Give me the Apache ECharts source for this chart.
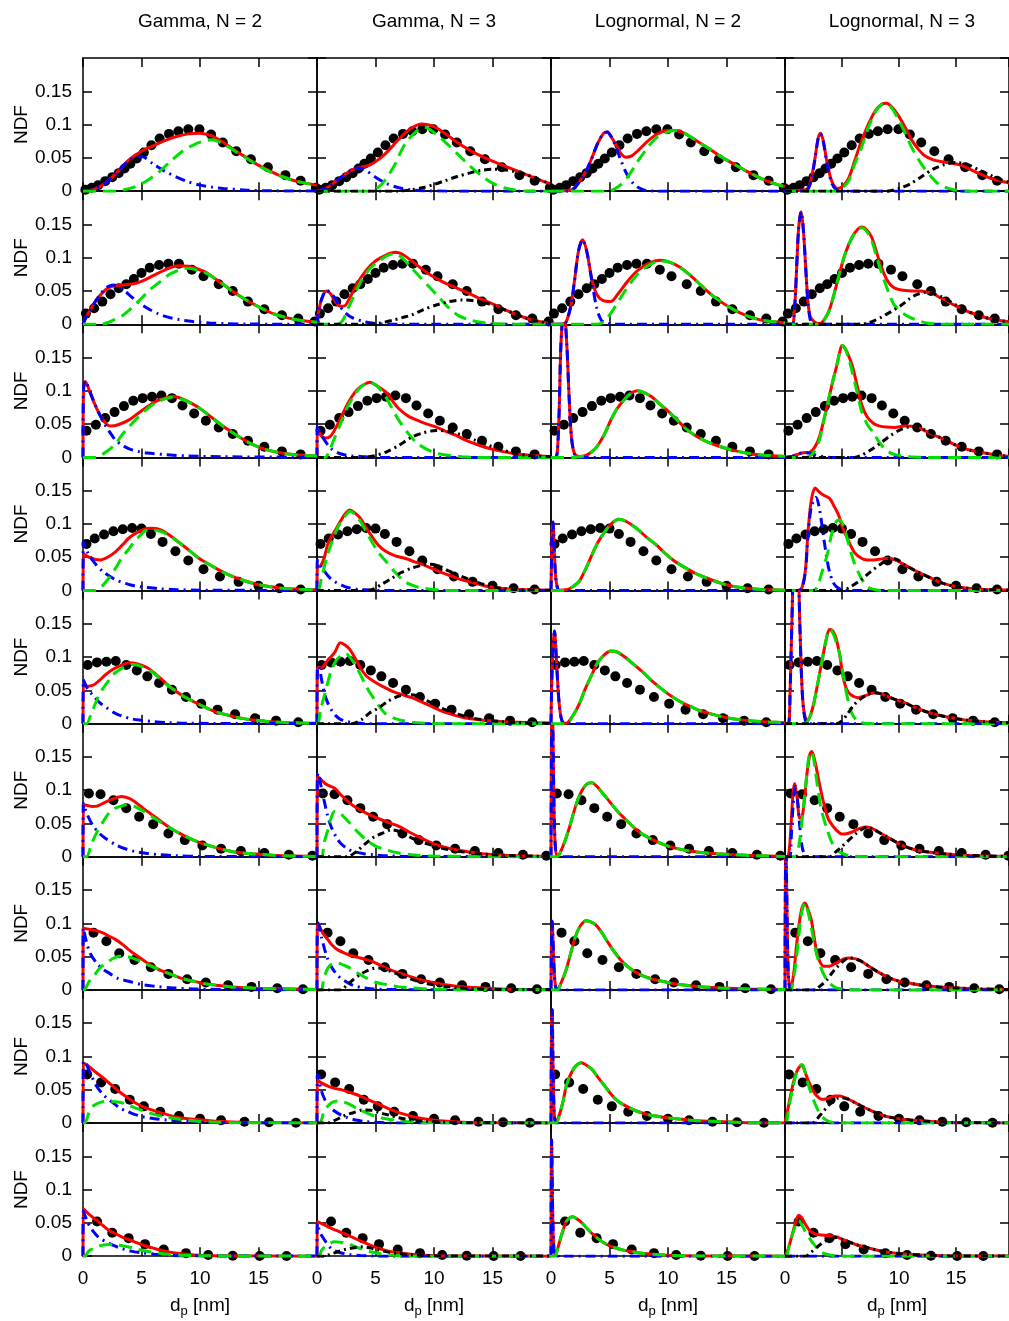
<!DOCTYPE html>
<html><head><meta charset="utf-8">
<script src="https://cdn.jsdelivr.net/npm/echarts@6/dist/echarts.min.js"></script>
<style>html,body{margin:0;padding:0;background:#fff}#c{width:1009px;height:1321px}</style>
</head><body><div id="c"></div>
<script>
const COL_TITLES = ['Gamma, N = 2', 'Gamma, N = 3', 'Lognormal, N = 2', 'Lognormal, N = 3'];
const X_TICKS = [0, 5, 10, 15];
const Y_TICKS = [0, 0.05, 0.1, 0.15];

// ---------- Row 1 ----------
const R1_DOTS = [[0.2,0.002],[0.75,0.005],[1.3,0.009],[1.9,0.015],[2.5,0.021],[3.05,0.027],[3.55,0.034],[4.05,0.041],[4.6,0.049],[5.2,0.058],[5.85,0.069],[6.55,0.079],[7.35,0.086],[8.15,0.09],[9.0,0.093],[9.95,0.093],[10.95,0.085],[11.95,0.073],[13.1,0.06],[14.35,0.048],[15.8,0.036],[17.3,0.024],[18.6,0.0155],[19.9,0.005]];
const R1C1_RED = [[0,0],[1,0.003],[2,0.013],[3,0.03],[4,0.048],[5,0.06],[6,0.068],[7,0.076],[8,0.082],[9,0.086],[10,0.087],[11,0.083],[12,0.073],[13,0.061],[14,0.05],[15,0.039],[16,0.03],[17,0.022],[18,0.016],[19,0.012],[20,0.009]];
const R1C1_BLUE = [[0,0],[1,0.003],[2,0.013],[3,0.03],[4,0.047],[5,0.052],[6,0.041],[7,0.03],[8,0.021],[9,0.014],[10,0.009],[11,0.006],[12,0.004],[14,0.0015],[16,0.0005],[20,0]];
const R1C1_GREEN = [[0,0],[2.5,0],[3.5,0.002],[4.5,0.007],[5.5,0.016],[6.5,0.029],[7.5,0.045],[8.5,0.06],[9.5,0.07],[10.5,0.076],[11,0.077],[12,0.071],[13,0.06],[14,0.049],[15,0.038],[16,0.029],[17,0.022],[18,0.016],[19,0.012],[20,0.009]];
const R1C2_RED = [[0,0],[1,0.007],[2,0.02],[3,0.032],[3.8,0.036],[4.5,0.039],[5.3,0.048],[6,0.059],[7,0.078],[8,0.094],[9,0.101],[10,0.097],[11,0.086],[12,0.073],[13,0.062],[14,0.053],[15,0.045],[16,0.038],[17,0.031],[18,0.024],[19,0.017],[20,0.011]];
const R1C2_BLUE = [[0,0],[1,0.007],[2,0.02],[3,0.032],[3.5,0.035],[4,0.033],[5,0.021],[6,0.011],[7,0.005],[8,0.002],[9,0.0007],[11,0],[20,0]];
const R1C2_GREEN = [[0,0],[4.5,0],[5.5,0.01],[6.5,0.035],[7.5,0.07],[8.5,0.09],[9.2,0.096],[10,0.088],[11,0.073],[12,0.056],[13,0.039],[14,0.024],[15,0.012],[16,0.005],[17,0.0015],[18,0],[20,0]];
const R1C2_BLACK = [[0,0],[7,0],[8,0.002],[9,0.005],[10,0.01],[11,0.016],[12,0.022],[13,0.027],[14,0.031],[15,0.033],[16,0.032],[17,0.029],[18,0.024],[19,0.017],[20,0.011]];
const R1C3_RED = [[0,0],[1,0.0005],[1.5,0.001],[2,0.005],[2.5,0.016],[3,0.03],[3.5,0.05],[4,0.072],[4.5,0.087],[4.8,0.089],[5.2,0.08],[5.6,0.068],[6,0.056],[6.4,0.051],[6.9,0.053],[7.5,0.062],[8.2,0.074],[9,0.085],[10,0.091],[10.6,0.091],[11.5,0.086],[12.5,0.075],[13.5,0.064],[14.5,0.052],[15.5,0.042],[16.5,0.032],[17.5,0.023],[18.5,0.015],[19.5,0.009],[20,0.007]];
const R1C3_BLUE = [[0,0],[1.5,0],[2,0.004],[2.5,0.016],[3,0.03],[3.5,0.05],[4,0.072],[4.5,0.087],[4.8,0.089],[5.2,0.08],[5.6,0.064],[6,0.045],[6.5,0.025],[7,0.012],[7.5,0.005],[8,0.0015],[9,0],[20,0]];
const R1C3_GREEN = [[0,0],[5,0],[5.5,0.004],[6,0.01],[6.5,0.02],[7,0.033],[7.5,0.047],[8.2,0.064],[9,0.08],[10,0.089],[10.6,0.091],[11.5,0.086],[12.5,0.075],[13.5,0.064],[14.5,0.052],[15.5,0.042],[16.5,0.032],[17.5,0.023],[18.5,0.015],[19.5,0.009],[20,0.007]];
const R1C4_RED = [[0,0],[1,0.001],[1.8,0.002],[2.2,0.012],[2.6,0.046],[2.9,0.079],[3.1,0.087],[3.35,0.076],[3.7,0.042],[4.1,0.015],[4.6,0.004],[5.1,0.008],[5.6,0.02],[6.1,0.045],[6.7,0.075],[7.3,0.1],[7.9,0.12],[8.5,0.131],[8.9,0.132],[9.4,0.126],[10,0.112],[10.6,0.094],[11.1,0.077],[11.7,0.063],[12.2,0.054],[13,0.047],[13.8,0.044],[14.6,0.042],[15.4,0.039],[16.2,0.033],[17.1,0.026],[18.1,0.019],[19.2,0.014],[20,0.011]];
const R1C4_BLUE = [[0,0],[1.8,0],[2.2,0.01],[2.6,0.045],[2.9,0.078],[3.1,0.086],[3.35,0.075],[3.7,0.04],[4.1,0.012],[4.5,0.002],[5,0],[20,0]];
const R1C4_GREEN = [[0,0],[4.5,0],[5,0.004],[5.6,0.016],[6.1,0.04],[6.7,0.065],[7.3,0.095],[7.9,0.118],[8.5,0.13],[8.9,0.131],[9.4,0.124],[10,0.106],[10.6,0.085],[11.1,0.066],[11.7,0.048],[12.2,0.035],[12.8,0.022],[13.3,0.013],[14,0.006],[14.8,0.002],[16,0],[20,0]];
const R1C4_BLACK = [[0,0],[9,0],[10,0.004],[11,0.011],[12,0.022],[13,0.033],[14,0.04],[15,0.043],[16,0.04],[17,0.032],[18,0.024],[19,0.017],[20,0.012]];

// ---------- Row 2 ----------
const R2_DOTS = [[0.25,0.016],[0.95,0.024],[1.65,0.034],[2.35,0.045],[3.05,0.054],[3.7,0.06],[4.35,0.068],[5.0,0.077],[5.7,0.085],[6.5,0.089],[7.3,0.091],[8.2,0.091],[9.3,0.082],[10.3,0.072],[11.6,0.06],[12.8,0.05],[14.1,0.034],[15.5,0.0225],[17.0,0.0135],[18.4,0.0085],[19.8,0.004]];
const R2C1_RED = [[0,0],[0.3,0.012],[0.7,0.024],[1.2,0.038],[1.7,0.048],[2.2,0.055],[2.8,0.058],[3.4,0.059],[4,0.06],[4.6,0.062],[5.2,0.066],[6,0.073],[6.8,0.08],[7.6,0.086],[8.3,0.088],[9,0.087],[9.8,0.083],[10.6,0.077],[11.4,0.067],[12.2,0.057],[13,0.047],[13.8,0.038],[14.6,0.03],[15.5,0.022],[16.4,0.015],[17.4,0.01],[18.5,0.006],[19.5,0.004],[20,0.003]];
const R2C1_BLUE = [[0,0],[0.3,0.012],[0.7,0.024],[1.2,0.038],[1.7,0.05],[2.2,0.057],[2.6,0.059],[3.2,0.055],[3.9,0.045],[4.7,0.033],[5.5,0.024],[6.4,0.016],[7.2,0.011],[8.2,0.007],[9.4,0.004],[10.8,0.002],[12.1,0.001],[14,0.0003],[20,0]];
const R2C1_GREEN = [[0,0],[1.5,0],[2.2,0.003],[2.8,0.008],[3.3,0.012],[4,0.022],[5,0.039],[5.8,0.053],[6.6,0.064],[7.4,0.075],[8.3,0.082],[8.9,0.084],[9.6,0.082],[10.6,0.076],[11.4,0.067],[12.2,0.057],[13,0.047],[13.8,0.038],[14.6,0.03],[15.5,0.022],[16.4,0.015],[17.4,0.01],[18.5,0.006],[19.5,0.004],[20,0.003]];
const R2C2_RED = [[0,0],[0.15,0.02],[0.4,0.038],[0.8,0.05],[1.1,0.047],[1.5,0.036],[2,0.027],[2.4,0.028],[2.9,0.043],[3.5,0.063],[4.2,0.081],[5,0.095],[5.9,0.104],[6.7,0.108],[7.4,0.104],[8.1,0.095],[8.9,0.084],[9.7,0.074],[10.5,0.066],[11.3,0.059],[12.1,0.053],[12.9,0.047],[14,0.038],[15.2,0.029],[16.3,0.02],[17.4,0.012],[18.5,0.006],[19.6,0.002],[20,0.0015]];
const R2C2_BLUE = [[0,0],[0.15,0.02],[0.4,0.038],[0.8,0.051],[1.1,0.048],[1.5,0.04],[2,0.026],[2.5,0.016],[3,0.01],[4,0.004],[5,0.001],[6,0],[20,0]];
const R2C2_GREEN = [[0,0],[1.8,0],[2.2,0.006],[2.8,0.029],[3.4,0.052],[3.9,0.069],[4.6,0.085],[5.3,0.095],[6,0.103],[6.6,0.106],[7.2,0.101],[8.1,0.084],[8.9,0.069],[9.7,0.054],[10.5,0.039],[11.3,0.024],[12.1,0.013],[13,0.0065],[14,0.003],[15,0.001],[16,0],[20,0]];
const R2C2_BLACK = [[0,0],[4.5,0],[5.3,0.0015],[6.5,0.006],[7.3,0.01],[8.1,0.014],[9.1,0.022],[10.2,0.029],[11.3,0.034],[12.4,0.0365],[13.5,0.035],[14.6,0.031],[15.7,0.024],[16.8,0.0165],[17.9,0.009],[19,0.004],[20,0.002]];
const R2C3_RED = [[0,0],[1,0.0005],[1.3,0.004],[1.7,0.028],[2.0,0.064],[2.35,0.11],[2.7,0.127],[3.05,0.11],[3.5,0.067],[3.9,0.045],[4.4,0.036],[5.1,0.034],[5.7,0.045],[6.3,0.059],[6.8,0.07],[7.5,0.082],[8.4,0.092],[9.3,0.096],[10,0.094],[11,0.086],[12,0.072],[12.8,0.059],[13.6,0.046],[14.5,0.034],[15.6,0.022],[16.7,0.013],[17.8,0.007],[18.9,0.004],[20,0.002]];
const R2C3_BLUE = [[0,0],[1,0],[1.3,0.004],[1.7,0.028],[2.0,0.064],[2.35,0.11],[2.7,0.127],[3.05,0.11],[3.5,0.064],[3.9,0.025],[4.3,0.006],[4.8,0.001],[5.5,0],[20,0]];
const R2C3_GREEN = [[0,0],[3.9,0],[4.3,0.0015],[4.8,0.009],[5.4,0.024],[6.1,0.044],[6.8,0.062],[7.5,0.077],[8.4,0.089],[9.3,0.095],[10,0.094],[11,0.086],[12,0.072],[12.8,0.059],[13.6,0.046],[14.5,0.034],[15.6,0.022],[16.7,0.013],[17.8,0.007],[18.9,0.004],[20,0.002]];
const R2C4_RED = [[0,0],[0.6,0],[0.74,0.003],[0.9,0.04],[1.02,0.084],[1.2,0.145],[1.42,0.169],[1.62,0.14],[1.82,0.084],[2.0,0.037],[2.2,0.012],[2.6,0.003],[3.06,0.001],[3.5,0.008],[3.9,0.022],[4.3,0.045],[4.77,0.076],[5.3,0.107],[5.9,0.131],[6.4,0.143],[6.75,0.146],[7.1,0.143],[7.6,0.131],[8.0,0.11],[8.45,0.086],[8.9,0.068],[9.3,0.0585],[9.8,0.053],[10.4,0.051],[11.1,0.05],[11.9,0.05],[12.5,0.048],[13,0.046],[13.6,0.04],[14.1,0.036],[14.8,0.029],[15.5,0.0235],[16.2,0.018],[17,0.0135],[17.8,0.009],[18.7,0.006],[20,0.003]];
const R2C4_BLUE = [[0,0],[0.6,0],[0.74,0.003],[0.9,0.04],[1.02,0.084],[1.2,0.145],[1.42,0.169],[1.62,0.14],[1.82,0.084],[2.0,0.035],[2.2,0.008],[2.4,0.001],[2.8,0],[20,0]];
const R2C4_GREEN = [[0,0],[3,0],[3.4,0.006],[3.9,0.021],[4.3,0.045],[4.77,0.076],[5.3,0.107],[5.9,0.131],[6.4,0.143],[6.75,0.145],[7.1,0.141],[7.6,0.126],[8.1,0.097],[8.7,0.066],[9.2,0.043],[9.6,0.0285],[10.4,0.016],[11,0.01],[11.6,0.006],[12.4,0.002],[13.5,0],[20,0]];
const R2C4_BLACK = [[0,0],[6.75,0],[7.3,0.002],[7.9,0.006],[8.5,0.011],[9,0.016],[9.6,0.022],[10.2,0.0285],[10.9,0.038],[11.6,0.045],[12.4,0.048],[13,0.046],[13.8,0.041],[14.6,0.033],[15.5,0.0235],[16.2,0.018],[17,0.0135],[17.8,0.009],[18.7,0.006],[20,0.003]];

// ---------- Row 3 ----------
const R3_DOTS = [[0.3,0.04],[1.1,0.049],[1.9,0.059],[2.7,0.068],[3.5,0.077],[4.3,0.085],[5.1,0.089],[5.9,0.091],[6.7,0.093],[7.6,0.089],[8.5,0.078],[9.5,0.066],[10.5,0.055],[11.6,0.045],[12.8,0.035],[14.1,0.025],[15.5,0.016],[17,0.009],[18.6,0.0045]];
const R3C1_RED = [[0,0],[0.04,0.1],[0.2,0.114],[0.6,0.098],[1,0.08],[1.5,0.062],[2,0.05],[2.4,0.047],[3,0.049],[3.9,0.056],[4.7,0.066],[5.5,0.076],[6.3,0.085],[7.2,0.09],[7.7,0.0915],[8.5,0.088],[9.4,0.08],[10.2,0.071],[11,0.06],[11.8,0.049],[12.7,0.038],[13.5,0.029],[14.3,0.021],[15.1,0.015],[15.9,0.0105],[17,0.0065],[18.1,0.004],[20,0.002]];
const R3C1_BLUE = [[0,0],[0.04,0.1],[0.2,0.115],[0.6,0.098],[1.15,0.075],[1.6,0.058],[2,0.0455],[2.4,0.035],[2.8,0.0255],[3.3,0.019],[3.9,0.013],[4.7,0.009],[5.5,0.0065],[7.2,0.004],[9,0.002],[12,0.001],[20,0]];
const R3C1_GREEN = [[0,0],[1.1,0],[1.6,0.004],[2.2,0.011],[2.8,0.0205],[3.3,0.033],[3.9,0.0455],[4.7,0.06],[5.5,0.073],[6.3,0.083],[7.2,0.089],[7.6,0.0905],[8.5,0.087],[9.4,0.08],[10.2,0.071],[11,0.06],[11.8,0.049],[12.7,0.038],[13.5,0.029],[14.3,0.021],[15.1,0.015],[15.9,0.0105],[17,0.0065],[18.1,0.004],[20,0.002]];
const R3C2_RED = [[0,0],[0.03,0.045],[0.3,0.034],[0.7,0.029],[1.1,0.031],[1.5,0.041],[2,0.058],[2.6,0.08],[3.2,0.097],[3.7,0.106],[4.2,0.111],[4.5,0.113],[5,0.109],[5.5,0.103],[5.9,0.098],[6.4,0.086],[7,0.073],[7.8,0.062],[8.6,0.0555],[9.4,0.05],[10.2,0.0455],[11,0.039],[11.9,0.033],[12.7,0.026],[13.5,0.0205],[14.6,0.014],[15.7,0.0095],[17,0.005],[18.5,0.003],[20,0.001]];
const R3C2_BLUE = [[0,0],[0.03,0.048],[0.3,0.036],[0.66,0.0255],[1.2,0.013],[2,0.0055],[3,0.002],[3.7,0.0015],[5,0],[20,0]];
const R3C2_GREEN = [[0,0],[0.7,0],[1.1,0.012],[1.5,0.029],[2,0.05],[2.6,0.0755],[3.2,0.094],[3.7,0.105],[4.2,0.111],[4.5,0.113],[5,0.109],[5.5,0.1],[5.9,0.0905],[6.4,0.074],[7,0.0555],[7.8,0.036],[8.6,0.0205],[9.4,0.012],[10.2,0.0065],[11.3,0.003],[12.4,0.001],[13.5,0],[20,0]];
const R3C2_BLACK = [[0,0],[3.7,0],[4.8,0.002],[5.9,0.008],[7,0.018],[8.1,0.0305],[9.1,0.037],[10.2,0.0405],[11.3,0.039],[12.4,0.0335],[13.5,0.026],[14.6,0.0185],[15.7,0.012],[16.8,0.0065],[18,0.003],[20,0.001]];
const R3C3_RED = [[0,0],[0.4,0],[0.55,0.01],[0.7,0.07],[0.85,0.17],[1.1,0.225],[1.35,0.17],[1.55,0.09],[1.75,0.03],[2.0,0.006],[2.4,0.0015],[3,0.003],[3.6,0.01],[4.1,0.0205],[4.6,0.036],[5.1,0.0555],[5.6,0.072],[6.2,0.0855],[6.8,0.096],[7.4,0.1],[8,0.097],[8.6,0.091],[9.3,0.08],[10.1,0.068],[10.9,0.054],[11.7,0.0405],[12.5,0.031],[13.4,0.023],[14.5,0.016],[15.6,0.0105],[16.6,0.007],[17.7,0.004],[20,0.0015]];
const R3C3_BLUE = [[0,0],[0.4,0],[0.55,0.01],[0.7,0.07],[0.85,0.17],[1.1,0.225],[1.35,0.17],[1.55,0.09],[1.75,0.03],[2.0,0.005],[2.3,0],[20,0]];
const R3C3_GREEN = [[0,0],[2.0,0],[2.4,0.001],[3,0.003],[3.6,0.01],[4.1,0.0205],[4.6,0.036],[5.1,0.0555],[5.6,0.072],[6.2,0.0855],[6.8,0.096],[7.4,0.1],[8,0.097],[8.6,0.091],[9.3,0.08],[10.1,0.068],[10.9,0.054],[11.7,0.0405],[12.5,0.031],[13.4,0.023],[14.5,0.016],[15.6,0.0105],[16.6,0.007],[17.7,0.004],[20,0.0015]];
const R3C4_RED = [[0,0],[0.5,0.001],[1,0.004],[1.6,0.007],[2.2,0.008],[2.6,0.015],[3,0.03],[3.4,0.0555],[3.8,0.085],[4.2,0.115],[4.5,0.135],[4.8,0.158],[5.0,0.168],[5.3,0.163],[5.6,0.152],[5.9,0.138],[6.3,0.11],[6.7,0.0805],[7.2,0.061],[7.8,0.0505],[8.3,0.047],[8.9,0.0455],[9.6,0.045],[10.5,0.047],[11.1,0.0468],[11.7,0.045],[12.2,0.0405],[13,0.034],[13.8,0.028],[14.6,0.0215],[15.4,0.0155],[16.2,0.011],[17.1,0.008],[18,0.005],[18.7,0.003],[20,0.0015]];
const R3C4_BLUE = [[0,0],[0.5,0.001],[1,0.004],[1.6,0.007],[2.2,0.006],[2.8,0.003],[3.4,0.001],[4,0],[20,0]];
const R3C4_GREEN = [[0,0],[1.8,0],[2.2,0.002],[2.6,0.01],[3,0.025],[3.4,0.0555],[3.8,0.085],[4.2,0.115],[4.5,0.135],[4.8,0.158],[5,0.168],[5.3,0.162],[5.6,0.148],[5.9,0.128],[6.3,0.1],[6.7,0.0705],[7.2,0.05],[7.8,0.0355],[8.3,0.022],[8.9,0.0105],[9.5,0.005],[10,0.003],[11,0.001],[12,0],[20,0]];
const R3C4_BLACK = [[0,0],[6.1,0],[6.8,0.004],[7.5,0.011],[8.3,0.0205],[9.1,0.031],[10,0.0405],[10.7,0.045],[11.1,0.0465],[11.7,0.045],[12.7,0.038],[13.8,0.028],[14.6,0.0215],[15.4,0.0155],[16.2,0.011],[17.1,0.008],[18,0.005],[18.7,0.003],[20,0.0015]];

// ---------- Row 4 ----------
const R4_DOTS = [[0.3,0.07],[1.0,0.078],[1.8,0.084],[2.6,0.089],[3.4,0.092],[4.2,0.094],[5.0,0.093],[5.8,0.085],[6.8,0.073],[7.9,0.059],[9.0,0.045],[10.3,0.032],[11.7,0.021],[13.3,0.013],[15.0,0.007],[16.8,0.0035],[18.6,0.0015]];
const R4C1_RED = [[0,0],[0.03,0.055],[0.5,0.05],[1,0.047],[1.5,0.046],[2.1,0.05],[2.8,0.0585],[3.4,0.069],[3.9,0.0785],[4.6,0.087],[5.3,0.0925],[5.8,0.0935],[6.6,0.0915],[7.4,0.083],[8.3,0.071],[9.1,0.06],[9.9,0.0485],[10.8,0.039],[11.6,0.031],[12.4,0.024],[13.2,0.0185],[14,0.0135],[14.8,0.0095],[15.9,0.006],[17,0.0035],[18.5,0.002],[20,0.001]];
const R4C1_BLUE = [[0,0],[0.03,0.073],[0.4,0.057],[0.9,0.0435],[1.7,0.0285],[2.8,0.016],[3.6,0.011],[4.4,0.007],[5.5,0.0045],[6.6,0.0025],[8,0.0013],[10,0.0005],[20,0]];
const R4C1_GREEN = [[0,0],[1,0],[1.6,0.006],[2.2,0.0185],[2.8,0.034],[3.3,0.0485],[3.9,0.062],[4.4,0.0735],[4.9,0.083],[5.3,0.0895],[5.8,0.091],[6.6,0.089],[7.4,0.082],[8.3,0.071],[9.1,0.06],[9.9,0.0485],[10.8,0.039],[11.6,0.031],[12.4,0.024],[13.2,0.0185],[14,0.0135],[14.8,0.0095],[15.9,0.006],[17,0.0035],[18.5,0.002],[20,0.001]];
const R4C2_RED = [[0,0],[0.03,0.035],[0.3,0.037],[0.6,0.048],[0.9,0.0685],[1.2,0.08],[1.5,0.0885],[2,0.104],[2.4,0.115],[2.8,0.121],[3.2,0.117],[3.7,0.1085],[4.2,0.094],[4.8,0.0785],[5.3,0.067],[5.9,0.0585],[6.7,0.052],[7.5,0.0485],[8.3,0.0435],[9.1,0.0385],[10,0.032],[10.8,0.026],[11.6,0.021],[12.4,0.016],[13.5,0.011],[14.6,0.006],[15.7,0.0035],[16.8,0.002],[20,0.0005]];
const R4C2_BLUE = [[0,0],[0.03,0.046],[0.3,0.038],[0.66,0.0285],[1.1,0.019],[1.5,0.0135],[2.1,0.008],[2.6,0.0045],[3.4,0.002],[4.2,0.001],[5,0],[20,0]];
const R4C2_GREEN = [[0,0],[0.1,0],[0.4,0.02],[0.9,0.0535],[1.5,0.0835],[2,0.102],[2.6,0.116],[2.8,0.119],[3.2,0.115],[3.7,0.104],[4.2,0.0885],[4.8,0.07],[5.3,0.056],[5.9,0.0435],[6.7,0.027],[7.5,0.0135],[8.3,0.007],[9.1,0.0035],[10,0.0015],[11,0],[20,0]];
const R4C2_BLACK = [[0,0],[4.2,0],[4.8,0.002],[5.6,0.01],[6.4,0.0185],[7.2,0.027],[8.1,0.0335],[9.1,0.0385],[9.7,0.0393],[10.4,0.037],[11.3,0.029],[12.4,0.021],[13.5,0.0135],[14.6,0.0075],[15.7,0.0035],[17,0.0015],[20,0.0003]];
const R4C3_RED = [[0,0],[0.04,0.04],[0.1,0.09],[0.18,0.103],[0.28,0.06],[0.4,0.02],[0.55,0.004],[0.7,0.0005],[1.3,0.001],[1.8,0.005],[2.4,0.0135],[2.9,0.03],[3.5,0.0535],[4,0.072],[4.6,0.0885],[5.2,0.101],[5.8,0.107],[6.4,0.104],[7.3,0.0935],[8.1,0.081],[9,0.0685],[9.8,0.055],[10.6,0.0435],[11.5,0.034],[12.3,0.026],[13.4,0.018],[14.5,0.011],[15.5,0.0065],[16.6,0.0035],[18,0.0015],[20,0.0005]];
const R4C3_BLUE = [[0,0],[0.04,0.04],[0.1,0.09],[0.18,0.103],[0.28,0.06],[0.4,0.02],[0.55,0.004],[0.7,0],[20,0]];
const R4C3_GREEN = [[0,0],[0.7,0],[1.3,0.001],[1.8,0.005],[2.4,0.0135],[2.9,0.03],[3.5,0.0535],[4,0.072],[4.6,0.0885],[5.2,0.101],[5.8,0.107],[6.4,0.104],[7.3,0.0935],[8.1,0.081],[9,0.0685],[9.8,0.055],[10.6,0.0435],[11.5,0.034],[12.3,0.026],[13.4,0.018],[14.5,0.011],[15.5,0.0065],[16.6,0.0035],[18,0.0015],[20,0.0005]];
const R4C4_RED = [[0,0],[1.2,0.0005],[1.5,0.005],[1.8,0.032],[2.0,0.0835],[2.3,0.135],[2.65,0.154],[3.0,0.148],[3.4,0.143],[3.9,0.1385],[4.3,0.127],[4.7,0.1135],[5.1,0.092],[5.6,0.0735],[6.1,0.057],[6.7,0.0485],[7.2,0.046],[7.8,0.046],[8.5,0.0475],[9.1,0.0485],[9.8,0.045],[10.5,0.0385],[11.4,0.03],[12.2,0.0235],[13,0.017],[13.8,0.011],[14.9,0.006],[16,0.0035],[17.5,0.0015],[20,0.0005]];
const R4C4_BLUE = [[0,0],[1.2,0],[1.5,0.004],[1.8,0.03],[2.0,0.0785],[2.3,0.125],[2.7,0.14],[3.0,0.125],[3.4,0.0785],[3.7,0.045],[3.9,0.0285],[4.2,0.013],[4.5,0.006],[5,0.001],[5.5,0],[20,0]];
const R4C4_GREEN = [[0,0],[2.4,0],[2.8,0.004],[3.2,0.025],[3.7,0.0535],[4.1,0.085],[4.5,0.1035],[4.8,0.106],[5.1,0.098],[5.6,0.0685],[6,0.045],[6.4,0.0285],[6.8,0.015],[7.2,0.006],[7.7,0.002],[8.5,0],[20,0]];
const R4C4_BLACK = [[0,0],[5,0],[5.8,0.006],[6.7,0.0165],[7.5,0.028],[8.3,0.0385],[8.9,0.0455],[9.4,0.0485],[9.9,0.046],[10.5,0.0385],[11.4,0.03],[12.2,0.0235],[13,0.017],[13.8,0.011],[14.9,0.006],[16,0.0035],[17.5,0.0015],[20,0.0005]];

// ---------- Row 5 ----------
const R5_DOTS = [[0.4,0.088],[1.2,0.092],[2.0,0.093],[2.8,0.094],[3.7,0.088],[4.6,0.08],[5.5,0.071],[6.5,0.061],[7.6,0.051],[8.8,0.04],[10.1,0.03],[11.5,0.021],[13.0,0.014],[14.7,0.008],[16.5,0.0045],[18.4,0.002]];
const R5C1_RED = [[0,0],[0.03,0.058],[0.4,0.056],[0.9,0.058],[1.4,0.065],[1.9,0.073],[2.6,0.082],[3.3,0.088],[3.9,0.0915],[4.6,0.09],[5.5,0.084],[6.3,0.073],[7.2,0.059],[8,0.048],[8.8,0.039],[9.7,0.031],[10.5,0.024],[11.3,0.018],[12.1,0.014],[12.9,0.0105],[13.7,0.0075],[14.8,0.005],[15.9,0.003],[17.5,0.0015],[20,0.0005]];
const R5C1_BLUE = [[0,0],[0.03,0.066],[0.4,0.052],[0.9,0.0415],[1.4,0.032],[2,0.024],[2.6,0.017],[3.3,0.0115],[4.2,0.007],[5,0.005],[6,0.003],[7.2,0.0015],[9,0.0005],[20,0]];
const R5C1_GREEN = [[0,0],[0.3,0],[0.7,0.015],[1.15,0.034],[1.6,0.05],[2,0.06],[2.6,0.074],[3.3,0.083],[3.8,0.087],[4.2,0.089],[4.6,0.088],[5.5,0.082],[6.3,0.072],[7.2,0.058],[8,0.048],[8.8,0.039],[9.7,0.031],[10.5,0.024],[11.3,0.018],[12.1,0.014],[12.9,0.0105],[13.7,0.0075],[14.8,0.005],[15.9,0.003],[17.5,0.0015],[20,0.0005]];
const R5C2_RED = [[0,0],[0.03,0.08],[0.15,0.085],[0.4,0.084],[0.66,0.089],[1,0.097],[1.5,0.1065],[2,0.1215],[2.4,0.118],[2.8,0.1115],[3.2,0.1],[3.7,0.084],[4.2,0.072],[4.8,0.064],[5.6,0.056],[6.4,0.049],[7.2,0.044],[8.1,0.039],[8.9,0.033],[9.7,0.0265],[10.5,0.02],[11.3,0.015],[12.4,0.0095],[13.5,0.0065],[14.9,0.004],[16.3,0.0025],[20,0.0005]];
const R5C2_BLUE = [[0,0],[0.03,0.08],[0.15,0.0865],[0.4,0.065],[0.66,0.044],[0.9,0.032],[1.2,0.0215],[1.6,0.012],[2,0.0065],[2.6,0.003],[3.1,0.0015],[4,0],[20,0]];
const R5C2_GREEN = [[0,0],[0.1,0],[0.3,0.02],[0.66,0.044],[1.2,0.079],[1.6,0.094],[2.1,0.103],[2.5,0.105],[2.8,0.1],[3.2,0.09],[3.7,0.074],[4.2,0.056],[4.8,0.039],[5.4,0.024],[5.9,0.014],[6.7,0.0075],[7.5,0.004],[8.5,0.0015],[10,0],[20,0]];
const R5C2_BLACK = [[0,0],[3,0],[3.8,0.006],[4.5,0.016],[5.3,0.024],[6.1,0.034],[7,0.0415],[7.8,0.0435],[8.5,0.042],[9.2,0.036],[9.9,0.03],[10.8,0.022],[11.9,0.015],[13,0.0095],[14.1,0.006],[15.5,0.0035],[17,0.0015],[20,0.0005]];
const R5C3_RED = [[0,0],[0.05,0.05],[0.15,0.11],[0.3,0.139],[0.45,0.1],[0.65,0.04],[0.85,0.01],[1.05,0.001],[1.3,0.0005],[1.8,0.01],[2.4,0.029],[2.9,0.051],[3.5,0.074],[4,0.092],[4.6,0.104],[5.1,0.109],[5.6,0.108],[6.2,0.1015],[7,0.09],[7.9,0.0765],[8.7,0.063],[9.5,0.0515],[10.3,0.041],[11.2,0.0315],[12,0.025],[12.8,0.019],[13.9,0.0135],[15,0.009],[16.1,0.006],[17.2,0.004],[18.6,0.0025],[20,0.0015]];
const R5C3_BLUE = [[0,0],[0.05,0.05],[0.15,0.11],[0.3,0.139],[0.45,0.1],[0.65,0.04],[0.85,0.01],[1.05,0.001],[1.3,0],[20,0]];
const R5C3_GREEN = [[0,0],[1.3,0],[1.8,0.01],[2.4,0.029],[2.9,0.051],[3.5,0.074],[4,0.092],[4.6,0.104],[5.1,0.109],[5.6,0.108],[6.2,0.1015],[7,0.09],[7.9,0.0765],[8.7,0.063],[9.5,0.0515],[10.3,0.041],[11.2,0.0315],[12,0.025],[12.8,0.019],[13.9,0.0135],[15,0.009],[16.1,0.006],[17.2,0.004],[18.6,0.0025],[20,0.0015]];
const R5C4_RED = [[0,0],[0.3,0],[0.45,0.05],[0.6,0.15],[0.75,0.24],[0.95,0.27],[1.15,0.24],[1.3,0.15],[1.45,0.07],[1.6,0.027],[1.8,0.008],[2,0.006],[2.4,0.022],[2.8,0.054],[3.2,0.09],[3.6,0.125],[3.9,0.1415],[4.2,0.139],[4.5,0.127],[4.8,0.103],[5.1,0.07],[5.4,0.052],[5.8,0.043],[6.4,0.039],[7.1,0.0425],[7.8,0.0465],[8.4,0.045],[8.9,0.0415],[9.7,0.036],[10.5,0.0315],[11.3,0.025],[12.2,0.019],[13,0.015],[13.8,0.0115],[14.9,0.008],[16,0.005],[17.5,0.003],[20,0.001]];
const R5C4_BLUE = [[0,0],[0.3,0],[0.45,0.05],[0.6,0.15],[0.75,0.24],[0.95,0.27],[1.15,0.24],[1.3,0.15],[1.45,0.07],[1.6,0.025],[1.8,0.004],[2,0],[20,0]];
const R5C4_GREEN = [[0,0],[1.7,0],[2,0.004],[2.4,0.02],[2.8,0.054],[3.2,0.09],[3.6,0.125],[3.9,0.1415],[4.2,0.136],[4.5,0.122],[4.8,0.104],[5.1,0.075],[5.3,0.054],[5.6,0.03],[5.9,0.014],[6.3,0.005],[6.7,0.0015],[7.5,0],[20,0]];
const R5C4_BLACK = [[0,0],[4.5,0],[5,0.004],[5.5,0.015],[6.1,0.029],[6.7,0.038],[7.2,0.043],[7.8,0.0465],[8.4,0.045],[8.9,0.0415],[9.7,0.036],[10.5,0.0315],[11.3,0.025],[12.2,0.019],[13,0.015],[13.8,0.0115],[14.9,0.008],[16,0.005],[17.5,0.003],[20,0.001]];

// ---------- Row 6 ----------
const R6_DOTS = [[0.5,0.095],[1.5,0.094],[2.6,0.085],[3.7,0.073],[4.8,0.06],[6.0,0.049],[7.3,0.035],[8.7,0.025],[10.2,0.017],[11.8,0.012],[13.5,0.0085],[15.5,0.0055],[17.6,0.003],[19.6,0.0015]];
const R6C1_RED = [[0,0],[0.03,0.078],[0.4,0.077],[0.8,0.0755],[1.2,0.076],[1.8,0.081],[2.5,0.0865],[3.3,0.0905],[3.9,0.088],[4.4,0.083],[5.2,0.072],[6.1,0.0605],[6.9,0.05],[7.7,0.0405],[8.6,0.032],[9.4,0.0255],[10.2,0.02],[11,0.0155],[11.8,0.0115],[12.7,0.008],[13.7,0.0055],[14.8,0.004],[16.5,0.002],[20,0.0005]];
const R6C1_BLUE = [[0,0],[0.03,0.08],[0.4,0.062],[0.9,0.0455],[1.7,0.0305],[2.8,0.018],[3.6,0.012],[4.4,0.008],[5.5,0.005],[6.6,0.003],[8,0.0015],[10,0.0005],[20,0]];
const R6C1_GREEN = [[0,0],[0.3,0],[0.7,0.018],[1.15,0.0355],[1.7,0.052],[2.2,0.0655],[2.8,0.073],[3.3,0.0765],[3.7,0.078],[4.4,0.0755],[5.2,0.068],[6.1,0.058],[6.9,0.049],[7.7,0.0405],[8.6,0.032],[9.4,0.0255],[10.2,0.02],[11,0.0155],[11.8,0.0115],[12.7,0.008],[13.7,0.0055],[14.8,0.004],[16.5,0.002],[20,0.0005]];
const R6C2_RED = [[0,0],[0.03,0.115],[0.1,0.12],[0.4,0.115],[0.66,0.1105],[1.1,0.106],[1.5,0.103],[2.1,0.092],[2.8,0.0805],[3.5,0.072],[4.2,0.0655],[5,0.059],[5.9,0.053],[6.5,0.049],[7,0.0455],[7.8,0.038],[8.6,0.0305],[9.4,0.024],[10.2,0.018],[11,0.014],[11.9,0.0105],[13,0.007],[14.1,0.0045],[16.3,0.002],[20,0.0005]];
const R6C2_BLUE = [[0,0],[0.03,0.12],[0.1,0.1255],[0.4,0.1],[0.66,0.0805],[0.9,0.062],[1.2,0.0455],[1.6,0.031],[2,0.0205],[2.6,0.012],[3.1,0.008],[4,0.0045],[4.8,0.003],[6,0.0015],[8,0.0005],[20,0]];
const R6C2_GREEN = [[0,0],[0.4,0],[0.6,0.02],[0.93,0.0405],[1.2,0.058],[1.5,0.068],[1.9,0.066],[2.4,0.058],[2.8,0.0505],[3.5,0.037],[4.2,0.0255],[5,0.016],[5.9,0.0105],[7,0.0055],[8.1,0.003],[10,0.001],[20,0]];
const R6C2_BLACK = [[0,0],[2.6,0],[3.3,0.007],[4.2,0.0205],[4.9,0.03],[5.6,0.0355],[6.4,0.0405],[7.2,0.037],[8.1,0.028],[8.9,0.022],[9.7,0.018],[10.5,0.0135],[11.3,0.0105],[12.4,0.0075],[13.5,0.005],[15,0.003],[17,0.0015],[20,0.0005]];
const R6C3_RED = [[0,0],[0.02,0.1],[0.05,0.2],[0.1,0.26],[0.18,0.17],[0.26,0.07],[0.35,0.02],[0.45,0.004],[0.6,0.002],[0.77,0.0055],[1.2,0.024],[1.6,0.0455],[2,0.07],[2.4,0.0905],[2.8,0.104],[3.2,0.1105],[3.5,0.111],[3.9,0.106],[4.3,0.098],[5,0.083],[5.7,0.068],[6.5,0.054],[7.3,0.0405],[8.1,0.031],[9,0.023],[9.8,0.017],[10.6,0.013],[11.7,0.009],[12.8,0.0065],[14.2,0.0045],[15.6,0.003],[17.5,0.0015],[20,0.0005]];
const R6C3_BLUE = [[0,0],[0.02,0.1],[0.05,0.2],[0.1,0.26],[0.18,0.17],[0.26,0.07],[0.35,0.02],[0.45,0.003],[0.6,0],[20,0]];
const R6C3_GREEN = [[0,0],[0.5,0],[0.77,0.0055],[1.2,0.024],[1.6,0.0455],[2,0.07],[2.4,0.0905],[2.8,0.104],[3.2,0.1105],[3.5,0.111],[3.9,0.106],[4.3,0.098],[5,0.083],[5.7,0.068],[6.5,0.054],[7.3,0.0405],[8.1,0.031],[9,0.023],[9.8,0.017],[10.6,0.013],[11.7,0.009],[12.8,0.0065],[14.2,0.0045],[15.6,0.003],[17.5,0.0015],[20,0.0005]];
const R6C4_RED = [[0,0],[0.3,0.002],[0.5,0.04],[0.7,0.095],[0.85,0.11],[1.05,0.09],[1.3,0.058],[1.5,0.06],[1.7,0.085],[1.95,0.128],[2.2,0.155],[2.35,0.158],[2.6,0.145],[2.9,0.12],[3.1,0.103],[3.4,0.0805],[3.8,0.057],[4.3,0.044],[4.7,0.037],[5,0.034],[5.5,0.035],[6.1,0.039],[6.6,0.043],[7.2,0.0448],[7.8,0.041],[8.3,0.036],[8.9,0.0305],[9.7,0.0225],[10.5,0.0155],[11.3,0.011],[12.2,0.008],[13.3,0.0055],[14.3,0.004],[16,0.002],[20,0.0005]];
const R6C4_BLUE = [[0,0],[0.4,0],[0.55,0.03],[0.7,0.075],[0.9,0.106],[1.1,0.085],[1.3,0.045],[1.5,0.015],[1.75,0.002],[2,0],[20,0]];
const R6C4_GREEN = [[0,0],[0.9,0],[1.2,0.015],[1.5,0.0555],[1.8,0.105],[2.05,0.145],[2.25,0.158],[2.5,0.148],[2.85,0.1055],[3.2,0.07],[3.7,0.0405],[4.1,0.022],[4.5,0.0105],[5.3,0.003],[6,0.001],[7,0],[20,0]];
const R6C4_BLACK = [[0,0],[3.9,0],[4.5,0.008],[5,0.0155],[5.6,0.025],[6.1,0.033],[6.7,0.0405],[7.2,0.0445],[7.8,0.041],[8.3,0.036],[8.9,0.0305],[9.7,0.0225],[10.5,0.0155],[11.3,0.011],[12.2,0.008],[13.3,0.0055],[14.3,0.004],[16,0.002],[20,0.0005]];

// ---------- Row 7 ----------
const R7_DOTS = [[0.9,0.086],[2.0,0.073],[3.1,0.055],[4.4,0.045],[5.8,0.034],[7.3,0.024],[8.9,0.016],[10.5,0.011],[12.4,0.007],[14.4,0.0045],[16.6,0.0025],[18.8,0.001]];
const R7C1_RED = [[0,0],[0.02,0.093],[0.5,0.091],[1.1,0.089],[1.7,0.0855],[2.2,0.081],[2.8,0.0755],[3.4,0.068],[3.9,0.0605],[4.7,0.05],[5.5,0.0405],[6.3,0.032],[7.2,0.0255],[8,0.02],[8.8,0.0155],[9.7,0.012],[10.5,0.009],[11.6,0.0065],[12.7,0.0045],[14.8,0.0025],[20,0.0005]];
const R7C1_BLUE = [[0,0],[0.02,0.093],[0.3,0.072],[0.6,0.0555],[1.15,0.0405],[1.7,0.031],[2.2,0.0255],[3,0.017],[3.9,0.013],[5,0.008],[6.1,0.0055],[7.7,0.003],[9.4,0.0015],[12,0.0005],[20,0]];
const R7C1_GREEN = [[0,0],[0.1,0],[0.5,0.012],[0.9,0.0205],[1.5,0.034],[2,0.0405],[2.6,0.0475],[3.1,0.0505],[3.6,0.0505],[4.2,0.048],[4.9,0.043],[5.5,0.038],[6.3,0.032],[7.2,0.0255],[8,0.02],[8.8,0.0155],[9.7,0.012],[10.5,0.009],[11.6,0.0065],[12.7,0.0045],[14.8,0.0025],[20,0.0005]];
const R7C2_RED = [[0,0],[0.03,0.095],[0.1,0.098],[0.5,0.085],[0.93,0.0755],[1.3,0.067],[1.75,0.0605],[2.4,0.055],[3.1,0.0505],[3.7,0.048],[4.2,0.0455],[4.8,0.042],[5.3,0.038],[6.1,0.031],[7,0.0255],[7.8,0.021],[8.6,0.0165],[9.7,0.012],[10.8,0.008],[11.9,0.0055],[13,0.004],[15.7,0.0015],[20,0.0005]];
const R7C2_BLUE = [[0,0],[0.03,0.095],[0.1,0.1005],[0.4,0.078],[0.66,0.0605],[0.9,0.047],[1.2,0.0355],[1.6,0.025],[2,0.018],[2.6,0.011],[3.1,0.0065],[4,0.003],[4.8,0.0015],[6,0.0005],[20,0]];
const R7C2_GREEN = [[0,0],[0.35,0],[0.6,0.018],[0.93,0.033],[1.3,0.039],[1.75,0.0405],[2.3,0.037],[2.8,0.033],[3.5,0.025],[4.2,0.018],[5,0.0115],[5.9,0.008],[7,0.0045],[8.1,0.003],[10,0.001],[20,0]];
const R7C2_BLACK = [[0,0],[2,0],[2.5,0.006],[3.1,0.0155],[3.7,0.023],[4.2,0.028],[4.8,0.032],[5.3,0.033],[6.1,0.029],[7,0.023],[7.8,0.0175],[8.6,0.013],[9.7,0.0085],[10.8,0.0055],[12.1,0.003],[13.5,0.0015],[16,0.0005],[20,0]];
const R7C3_RED = [[0,0],[0.03,0.06],[0.1,0.103],[0.2,0.06],[0.3,0.02],[0.4,0.004],[0.55,0.001],[0.9,0.012],[1.3,0.0305],[1.7,0.056],[2.1,0.0805],[2.5,0.096],[3,0.104],[3.3,0.103],[3.8,0.098],[4.3,0.087],[4.9,0.0705],[5.5,0.055],[6.2,0.0405],[7,0.029],[7.9,0.0205],[8.7,0.016],[9.5,0.013],[10.6,0.009],[11.7,0.0065],[13,0.0045],[14.5,0.003],[17,0.0015],[20,0.0005]];
const R7C3_BLUE = [[0,0],[0.03,0.06],[0.1,0.103],[0.2,0.06],[0.3,0.02],[0.4,0.004],[0.55,0],[20,0]];
const R7C3_GREEN = [[0,0],[0.55,0],[0.9,0.012],[1.3,0.0305],[1.7,0.056],[2.1,0.0805],[2.5,0.096],[3,0.104],[3.3,0.103],[3.8,0.098],[4.3,0.087],[4.9,0.0705],[5.5,0.055],[6.2,0.0405],[7,0.029],[7.9,0.0205],[8.7,0.016],[9.5,0.013],[10.6,0.009],[11.7,0.0065],[13,0.0045],[14.5,0.003],[17,0.0015],[20,0.0005]];
const R7C4_RED = [[0,0],[0.02,0.12],[0.08,0.22],[0.15,0.15],[0.22,0.07],[0.3,0.02],[0.45,0.004],[0.6,0.008],[0.8,0.03],[1,0.065],[1.25,0.1],[1.5,0.124],[1.75,0.1305],[2.0,0.122],[2.3,0.1055],[2.55,0.08],[2.8,0.0555],[3.1,0.041],[3.4,0.0355],[3.9,0.0355],[4.5,0.0405],[5.1,0.046],[5.6,0.048],[6.2,0.0465],[6.7,0.043],[7.5,0.034],[8.3,0.0255],[9.1,0.0185],[10,0.013],[11.1,0.0095],[12.2,0.0065],[13.5,0.0045],[14.9,0.003],[17,0.0015],[20,0.0005]];
const R7C4_BLUE = [[0,0],[0.02,0.12],[0.08,0.22],[0.15,0.15],[0.22,0.07],[0.3,0.02],[0.4,0.003],[0.55,0],[20,0]];
const R7C4_GREEN = [[0,0],[0.5,0],[0.7,0.012],[0.95,0.04],[1.2,0.08],[1.45,0.115],[1.75,0.1305],[2.05,0.115],[2.4,0.0855],[2.75,0.055],[3.1,0.0355],[3.5,0.02],[3.9,0.0105],[4.5,0.003],[5.2,0.001],[6,0],[20,0]];
const R7C4_BLACK = [[0,0],[2.6,0],[3.1,0.006],[3.7,0.0155],[4.1,0.025],[4.5,0.033],[5.1,0.043],[5.6,0.048],[6.2,0.0465],[6.7,0.043],[7.5,0.034],[8.3,0.0255],[9.1,0.0185],[10,0.013],[11.1,0.0095],[12.2,0.0065],[13.5,0.0045],[14.9,0.003],[17,0.0015],[20,0.0005]];

// ---------- Row 8 ----------
const R8_DOTS = [[0.35,0.073],[1.55,0.061],[2.75,0.051],[4.0,0.035],[5.2,0.025],[6.6,0.017],[8.2,0.0105],[10.0,0.0065],[11.8,0.004],[13.8,0.002],[15.9,0.001],[18.2,0.0003]];
const R8C1_RED = [[0,0],[0.02,0.09],[0.5,0.085],[1.15,0.0755],[1.7,0.068],[2.2,0.0605],[2.9,0.05],[3.6,0.0405],[4.3,0.032],[5,0.0255],[5.8,0.02],[6.6,0.0155],[7.4,0.0115],[8.3,0.008],[9.4,0.0055],[10.5,0.004],[11.6,0.0025],[12.7,0.0015],[15,0.0005],[20,0]];
const R8C1_BLUE = [[0,0],[0.02,0.09],[0.1,0.093],[0.6,0.0755],[1.15,0.0555],[1.6,0.045],[2,0.038],[2.6,0.03],[3.1,0.023],[3.7,0.018],[4.4,0.013],[5.2,0.009],[6.1,0.0065],[7.2,0.0045],[8.3,0.003],[9.6,0.0015],[11,0.0005],[20,0]];
const R8C1_GREEN = [[0,0],[0.15,0],[0.5,0.015],[0.9,0.026],[1.4,0.0305],[1.8,0.0325],[2.2,0.033],[2.8,0.032],[3.3,0.0305],[3.9,0.027],[4.4,0.023],[5.2,0.018],[6.1,0.013],[7.2,0.0085],[8.3,0.0055],[9.6,0.003],[11,0.0015],[13,0.0005],[20,0]];
const R8C2_RED = [[0,0],[0.02,0.065],[0.3,0.061],[0.93,0.0555],[1.5,0.052],[2,0.0505],[2.8,0.046],[3.7,0.0405],[4.5,0.034],[5.3,0.028],[6.1,0.0215],[7,0.0155],[7.8,0.0115],[8.6,0.008],[9.7,0.005],[10.8,0.003],[12,0.0015],[13.5,0.0005],[20,0]];
const R8C2_BLUE = [[0,0],[0.02,0.07],[0.08,0.073],[0.35,0.05],[0.66,0.0355],[1,0.026],[1.5,0.018],[2,0.0125],[2.6,0.008],[3.3,0.0045],[4,0.0025],[5,0.001],[6.5,0],[20,0]];
const R8C2_GREEN = [[0,0],[0.25,0],[0.6,0.018],[0.93,0.0255],[1.3,0.031],[1.75,0.033],[2.2,0.032],[2.8,0.028],[3.5,0.021],[4.2,0.0155],[5,0.01],[5.9,0.0065],[7,0.0035],[8.1,0.0015],[10,0.0005],[20,0]];
const R8C2_BLACK = [[0,0],[0.9,0],[1.4,0.003],[2,0.008],[2.6,0.013],[3.1,0.0155],[3.9,0.0195],[4.6,0.019],[5.3,0.0155],[6.1,0.012],[7,0.008],[7.8,0.0055],[9.1,0.003],[10.5,0.0015],[12,0.0005],[20,0]];
const R8C3_RED = [[0,0],[0.02,0.08],[0.05,0.15],[0.1,0.17],[0.16,0.1],[0.24,0.03],[0.32,0.006],[0.45,0.002],[0.77,0.0155],[1.05,0.034],[1.3,0.0555],[1.7,0.074],[2.1,0.0855],[2.6,0.0905],[3.0,0.087],[3.5,0.0805],[4,0.069],[4.6,0.0555],[5.1,0.044],[5.7,0.033],[6.5,0.0245],[7.3,0.018],[8.2,0.013],[9,0.0105],[10.1,0.0075],[11.2,0.0055],[12.5,0.0035],[13.9,0.0025],[16.6,0.0005],[20,0]];
const R8C3_BLUE = [[0,0],[0.02,0.08],[0.05,0.15],[0.1,0.17],[0.16,0.1],[0.24,0.03],[0.32,0.006],[0.45,0],[20,0]];
const R8C3_GREEN = [[0,0],[0.45,0],[0.77,0.0155],[1.05,0.034],[1.3,0.0555],[1.7,0.074],[2.1,0.0855],[2.6,0.0905],[3.0,0.087],[3.5,0.0805],[4,0.069],[4.6,0.0555],[5.1,0.044],[5.7,0.033],[6.5,0.0245],[7.3,0.018],[8.2,0.013],[9,0.0105],[10.1,0.0075],[11.2,0.0055],[12.5,0.0035],[13.9,0.0025],[16.6,0.0005],[20,0]];
const R8C4_RED = [[0,0],[0.3,0.025],[0.66,0.0555],[1,0.076],[1.3,0.085],[1.5,0.0865],[1.75,0.077],[2,0.0655],[2.3,0.054],[2.6,0.045],[2.9,0.039],[3.2,0.0355],[3.6,0.036],[3.9,0.038],[4.4,0.0405],[4.8,0.0405],[5.2,0.0385],[5.6,0.0355],[6.1,0.031],[6.7,0.0255],[7.5,0.019],[8.3,0.013],[9.1,0.009],[10,0.0065],[11,0.0045],[12.2,0.003],[13.5,0.0015],[14.9,0.0005],[20,0]];
const R8C4_BLUE = [[0,0],[20,0]];
const R8C4_GREEN = [[0,0],[0.1,0],[0.35,0.025],[0.66,0.0505],[1,0.075],[1.3,0.086],[1.5,0.088],[1.75,0.078],[2,0.0605],[2.3,0.044],[2.6,0.0305],[2.9,0.019],[3.2,0.0105],[3.6,0.0045],[3.9,0.002],[4.5,0],[20,0]];
const R8C4_BLACK = [[0,0],[2.4,0],[2.8,0.006],[3.1,0.012],[3.4,0.018],[3.8,0.026],[4.2,0.033],[4.6,0.037],[5,0.038],[5.4,0.0365],[5.6,0.0355],[6.1,0.031],[6.7,0.0255],[7.5,0.019],[8.3,0.013],[9.1,0.009],[10,0.0065],[11,0.0045],[12.2,0.003],[13.5,0.0015],[14.9,0.0005],[20,0]];

// ---------- Row 9 ----------
const R9_DOTS = [[1.2,0.052],[2.5,0.035],[3.9,0.027],[5.3,0.018],[6.9,0.01],[8.8,0.0045],[10.7,0.0017],[12.8,0.0006],[15.1,0.0002],[17.4,0.0001]];
const R9C1_RED = [[0,0],[0.02,0.0715],[0.5,0.063],[1.15,0.054],[1.7,0.046],[2.2,0.039],[2.8,0.0335],[3.3,0.029],[3.9,0.025],[4.4,0.0215],[5.2,0.016],[6.1,0.0115],[6.9,0.008],[7.7,0.005],[8.8,0.003],[9.9,0.0015],[12.1,0.0003],[20,0]];
const R9C1_BLUE = [[0,0],[0.02,0.068],[0.3,0.055],[0.6,0.044],[1.15,0.0315],[1.5,0.026],[2,0.0215],[2.6,0.016],[3.3,0.0115],[4.1,0.0075],[5,0.005],[6.1,0.003],[7.2,0.0015],[9,0.0005],[20,0]];
const R9C1_GREEN = [[0,0],[0.15,0],[0.5,0.008],[0.9,0.0115],[1.3,0.015],[1.7,0.0165],[2.2,0.0175],[2.7,0.017],[3.1,0.0165],[3.7,0.0145],[4.4,0.0115],[5.2,0.008],[6.1,0.0055],[7.2,0.003],[8.3,0.0015],[10,0.0005],[20,0]];
const R9C2_RED = [[0,0],[0.02,0.0515],[0.5,0.048],[0.93,0.044],[1.6,0.039],[2.3,0.034],[3,0.0285],[3.7,0.023],[4.5,0.017],[5.3,0.0115],[6.1,0.0075],[7,0.005],[8,0.003],[9.1,0.0015],[11.3,0.0003],[20,0]];
const R9C2_BLUE = [[0,0],[0.02,0.049],[0.3,0.034],[0.66,0.024],[1.2,0.0115],[1.6,0.0075],[2,0.005],[2.8,0.0025],[3.7,0.001],[5,0],[20,0]];
const R9C2_GREEN = [[0,0],[0.15,0],[0.4,0.009],[0.66,0.014],[1.1,0.019],[1.5,0.0215],[2,0.021],[2.6,0.019],[3.1,0.0155],[3.7,0.0115],[4.5,0.007],[5.3,0.004],[6.1,0.002],[7,0.0005],[8,0],[20,0]];
const R9C2_BLACK = [[0,0],[0.6,0],[1.2,0.003],[1.75,0.0065],[2.3,0.0095],[2.8,0.0115],[3.4,0.0135],[3.9,0.014],[4.5,0.0125],[5.3,0.009],[6.1,0.006],[7,0.004],[8,0.002],[9.1,0.001],[11,0.0002],[20,0]];
const R9C3_RED = [[0,0],[0.015,0.1],[0.05,0.175],[0.1,0.12],[0.16,0.05],[0.24,0.012],[0.35,0.002],[0.55,0.01],[0.77,0.024],[1.05,0.04],[1.3,0.052],[1.6,0.0575],[1.86,0.059],[2.2,0.056],[2.7,0.049],[3.1,0.041],[3.5,0.034],[4,0.0265],[4.6,0.019],[5.4,0.013],[6.2,0.009],[7,0.0065],[7.9,0.004],[9,0.0025],[10.1,0.001],[12.3,0.0002],[20,0]];
const R9C3_BLUE = [[0,0],[0.015,0.1],[0.05,0.175],[0.1,0.12],[0.16,0.05],[0.24,0.012],[0.35,0],[20,0]];
const R9C3_GREEN = [[0,0],[0.35,0],[0.55,0.01],[0.77,0.024],[1.05,0.04],[1.3,0.052],[1.6,0.0575],[1.86,0.059],[2.2,0.056],[2.7,0.049],[3.1,0.041],[3.5,0.034],[4,0.0265],[4.6,0.019],[5.4,0.013],[6.2,0.009],[7,0.0065],[7.9,0.004],[9,0.0025],[10.1,0.001],[12.3,0.0002],[20,0]];
const R9C4_RED = [[0,0],[0.3,0.012],[0.66,0.034],[0.95,0.052],[1.2,0.0615],[1.45,0.058],[1.75,0.049],[2.05,0.041],[2.3,0.0365],[2.8,0.0325],[3.4,0.0315],[3.9,0.0305],[4.5,0.029],[5,0.0255],[5.6,0.0215],[6.2,0.0175],[6.9,0.014],[7.6,0.011],[8.3,0.008],[9.1,0.0055],[10,0.004],[11,0.0025],[12.2,0.0015],[14.3,0.0003],[20,0]];
const R9C4_BLUE = [[0,0],[20,0]];
const R9C4_GREEN = [[0,0],[0.1,0],[0.4,0.018],[0.77,0.039],[1.0,0.05],[1.2,0.054],[1.45,0.048],[1.75,0.038],[2.0,0.0315],[2.3,0.023],[2.6,0.0165],[3,0.009],[3.4,0.004],[4,0.0015],[4.5,0],[20,0]];
const R9C4_BLACK = [[0,0],[1.8,0],[2.3,0.006],[2.85,0.014],[3.3,0.02],[3.7,0.024],[4.1,0.0265],[4.5,0.028],[5,0.0255],[5.6,0.0215],[6.2,0.0175],[6.9,0.014],[7.6,0.011],[8.3,0.008],[9.1,0.0055],[10,0.004],[11,0.0025],[12.2,0.0015],[14.3,0.0003],[20,0]];

// ---------- assembly ----------
const ROW_DOTS = [R1_DOTS, R2_DOTS, R3_DOTS, R4_DOTS, R5_DOTS, R6_DOTS, R7_DOTS, R8_DOTS, R9_DOTS];
const PANELS = [
  [R1C1_RED,R1C1_BLUE,R1C1_GREEN,null],[R1C2_RED,R1C2_BLUE,R1C2_GREEN,R1C2_BLACK],[R1C3_RED,R1C3_BLUE,R1C3_GREEN,null],[R1C4_RED,R1C4_BLUE,R1C4_GREEN,R1C4_BLACK],
  [R2C1_RED,R2C1_BLUE,R2C1_GREEN,null],[R2C2_RED,R2C2_BLUE,R2C2_GREEN,R2C2_BLACK],[R2C3_RED,R2C3_BLUE,R2C3_GREEN,null],[R2C4_RED,R2C4_BLUE,R2C4_GREEN,R2C4_BLACK],
  [R3C1_RED,R3C1_BLUE,R3C1_GREEN,null],[R3C2_RED,R3C2_BLUE,R3C2_GREEN,R3C2_BLACK],[R3C3_RED,R3C3_BLUE,R3C3_GREEN,null],[R3C4_RED,R3C4_BLUE,R3C4_GREEN,R3C4_BLACK],
  [R4C1_RED,R4C1_BLUE,R4C1_GREEN,null],[R4C2_RED,R4C2_BLUE,R4C2_GREEN,R4C2_BLACK],[R4C3_RED,R4C3_BLUE,R4C3_GREEN,null],[R4C4_RED,R4C4_BLUE,R4C4_GREEN,R4C4_BLACK],
  [R5C1_RED,R5C1_BLUE,R5C1_GREEN,null],[R5C2_RED,R5C2_BLUE,R5C2_GREEN,R5C2_BLACK],[R5C3_RED,R5C3_BLUE,R5C3_GREEN,null],[R5C4_RED,R5C4_BLUE,R5C4_GREEN,R5C4_BLACK],
  [R6C1_RED,R6C1_BLUE,R6C1_GREEN,null],[R6C2_RED,R6C2_BLUE,R6C2_GREEN,R6C2_BLACK],[R6C3_RED,R6C3_BLUE,R6C3_GREEN,null],[R6C4_RED,R6C4_BLUE,R6C4_GREEN,R6C4_BLACK],
  [R7C1_RED,R7C1_BLUE,R7C1_GREEN,null],[R7C2_RED,R7C2_BLUE,R7C2_GREEN,R7C2_BLACK],[R7C3_RED,R7C3_BLUE,R7C3_GREEN,null],[R7C4_RED,R7C4_BLUE,R7C4_GREEN,R7C4_BLACK],
  [R8C1_RED,R8C1_BLUE,R8C1_GREEN,null],[R8C2_RED,R8C2_BLUE,R8C2_GREEN,R8C2_BLACK],[R8C3_RED,R8C3_BLUE,R8C3_GREEN,null],[R8C4_RED,R8C4_BLUE,R8C4_GREEN,R8C4_BLACK],
  [R9C1_RED,R9C1_BLUE,R9C1_GREEN,null],[R9C2_RED,R9C2_BLUE,R9C2_GREEN,R9C2_BLACK],[R9C3_RED,R9C3_BLUE,R9C3_GREEN,null],[R9C4_RED,R9C4_BLUE,R9C4_GREEN,R9C4_BLACK]
];

const FONT = 'Liberation Sans';
const LEFT0 = 83, COLW = 234, TOP0 = 58, ROWH = 133.125;
const COL_WIDTH = [234, 234, 234, 231];
const X_MAX = [20, 20, 20, 19.65];
const LINE_STYLES = [
  {color: '#ff0000', type: 'solid', z: 3},
  {color: '#0000ff', type: [10, 5, 2, 5], z: 4},
  {color: '#00e000', type: [13, 7], z: 5},
  {color: '#000000', type: [7, 4, 2, 4], z: 6}
];

const grids = [], xAxes = [], yAxes = [], series = [];
const axLine = {show: true, onZero: false, lineStyle: {color: '#000', width: 1.5}};
const tick = {show: true, inside: true, length: 9, lineStyle: {color: '#000', width: 1.5}};
const labelBase = {fontSize: 19, fontFamily: FONT, color: '#000'};

for (let r = 0; r < 9; r++) {
  for (let c = 0; c < 4; c++) {
    const g = r * 4 + c;
    grids.push({left: LEFT0 + c * COLW, top: TOP0 + r * ROWH, width: COL_WIDTH[c], height: ROWH, containLabel: false});
    const xmax = X_MAX[c];
    xAxes.push({
      type: 'value', gridIndex: g, position: 'bottom', min: 0, max: xmax, interval: 5,
      axisLine: axLine, axisTick: tick, splitLine: {show: false},
      axisLabel: Object.assign({show: r === 8, showMaxLabel: false, margin: 13,
        formatter: v => (X_TICKS.indexOf(v) >= 0 ? String(v) : '')}, labelBase),
      name: r === 8 ? '{a|d}{b|p}{a| [nm]}' : '', nameLocation: 'middle', nameGap: 38,
      nameTextStyle: {color: '#000', fontFamily: FONT, fontSize: 19,
        rich: {a: {fontSize: 19, fontFamily: FONT, color: '#000'},
               b: {fontSize: 13, fontFamily: FONT, color: '#000', padding: [11, 0, 0, 0]}}}
    });
    xAxes.push({
      type: 'value', gridIndex: g, position: 'top', min: 0, max: xmax, interval: 5,
      axisLine: axLine, axisTick: tick, splitLine: {show: false}, axisLabel: {show: false}
    });
    yAxes.push({
      type: 'value', gridIndex: g, position: 'left', min: 0, max: 0.2, interval: 0.05,
      axisLine: axLine, axisTick: tick, splitLine: {show: false},
      axisLabel: Object.assign({show: c === 0, showMaxLabel: false, margin: 11,
        formatter: v => { const i = Y_TICKS.findIndex(t => Math.abs(t - v) < 1e-9); return i >= 0 ? String(Y_TICKS[i]) : ''; }}, labelBase),
      name: c === 0 ? 'NDF' : '', nameLocation: 'middle', nameGap: 48,
      nameTextStyle: {color: '#000', fontFamily: FONT, fontSize: 19}
    });
    yAxes.push({
      type: 'value', gridIndex: g, position: 'right', min: 0, max: 0.2, interval: 0.05,
      axisLine: axLine, axisTick: tick, splitLine: {show: false}, axisLabel: {show: false}
    });
    series.push({
      type: 'scatter', xAxisIndex: 2 * g, yAxisIndex: 2 * g, data: ROW_DOTS[r],
      symbol: 'circle', symbolSize: 10, itemStyle: {color: '#000', opacity: 1}, z: 2, silent: true, clip: true
    });
    PANELS[g].forEach((d, k) => {
      if (!d) return;
      const st = LINE_STYLES[k];
      series.push({
        type: 'line', xAxisIndex: 2 * g, yAxisIndex: 2 * g, data: d,
        showSymbol: false, smooth: 0.3, clip: true, silent: true, z: st.z,
        lineStyle: {color: st.color, width: 3, type: st.type, opacity: 1}
      });
    });
  }
}

const COL_CENTERS = [0, 1, 2, 3].map(c => LEFT0 + c * COLW + 117);
const graphic = COL_TITLES.map((t, i) => ({
  type: 'text', x: COL_CENTERS[i], y: 22,
  style: {text: t, fontSize: 19, fontFamily: FONT, fill: '#000', align: 'center', verticalAlign: 'middle', textAlign: 'center', textVerticalAlign: 'middle'}
}));

const chart = echarts.init(document.getElementById('c'), null, {renderer: 'canvas', width: 1009, height: 1321});
chart.setOption({
  animation: false,
  backgroundColor: '#fff',
  grid: grids, xAxis: xAxes, yAxis: yAxes, series: series, graphic: graphic
});
</script>
</body></html>
